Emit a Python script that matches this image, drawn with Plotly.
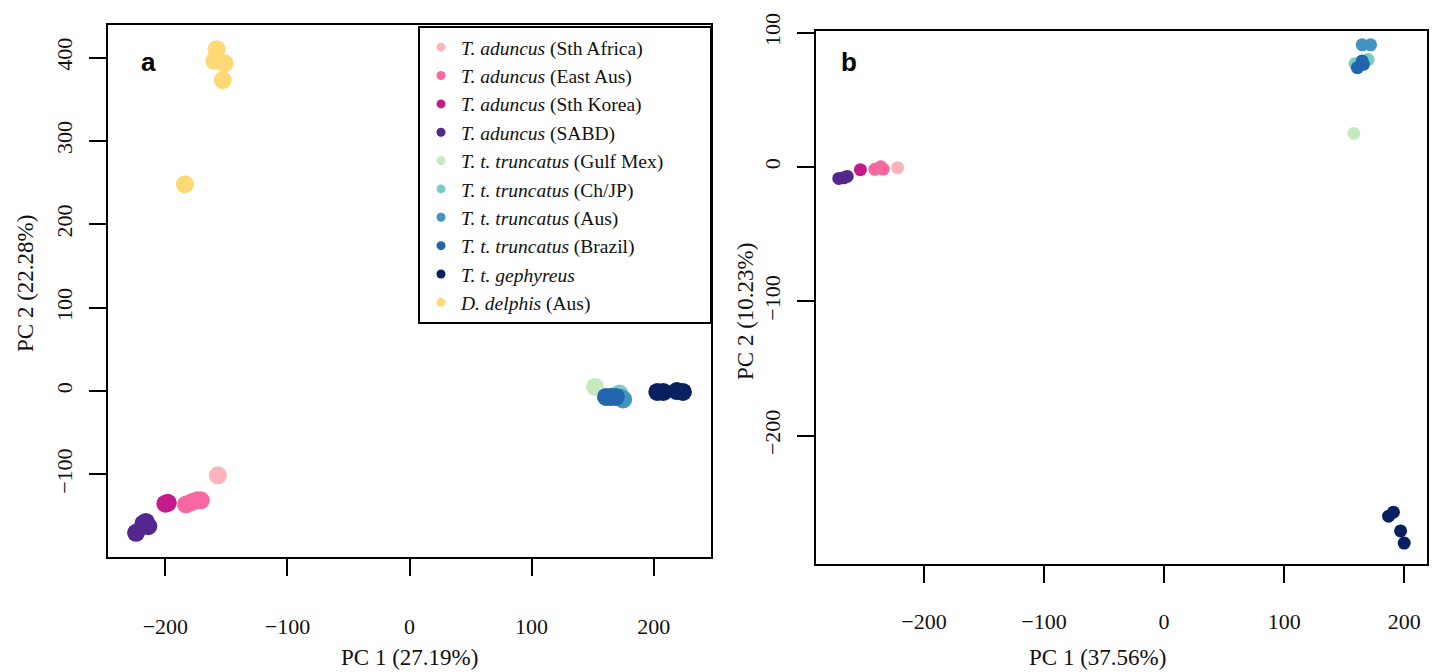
import plotly.graph_objects as go

W, H = 1437, 672

# Population groups, legend labels and colours
groups = ["sth_africa", "east_aus", "sth_korea", "sabd", "gulf_mex",
          "ch_jp", "aus", "brazil", "gephyreus", "delphis"]
labels = [
    "<i>T. aduncus</i> (Sth Africa)",
    "<i>T. aduncus</i> (East Aus)",
    "<i>T. aduncus</i> (Sth Korea)",
    "<i>T. aduncus</i> (SABD)",
    "<i>T. t. truncatus</i> (Gulf Mex)",
    "<i>T. t. truncatus</i> (Ch/JP)",
    "<i>T. t. truncatus</i> (Aus)",
    "<i>T. t. truncatus</i> (Brazil)",
    "<i>T. t. gephyreus</i>",
    "<i>D. delphis</i> (Aus)",
]
colors = ["#FBB4B9", "#F768A1", "#C51B8A", "#54278F", "#C7E9C0",
          "#7BCCC4", "#4393C3", "#2166AC", "#08205E", "#FED976"]

# Panel a: PCA including D. delphis
a_pc1 = {
    "sth_africa": [-157],
    "east_aus": [-183, -178, -174, -171],
    "sth_korea": [-200, -198],
    "sabd": [-224, -218, -214, -216],
    "gulf_mex": [152],
    "ch_jp": [172, 169],
    "aus": [175, 173],
    "brazil": [161, 165, 169],
    "gephyreus": [203, 208, 219, 224],
    "delphis": [-158, -160, -151.5, -153, -184],
}
a_pc2 = {
    "sth_africa": [-101],
    "east_aus": [-136, -133, -131, -131],
    "sth_korea": [-135, -134],
    "sabd": [-170, -159, -162, -157],
    "gulf_mex": [5],
    "ch_jp": [-3, -5],
    "aus": [-10, -8],
    "brazil": [-7, -7, -7],
    "gephyreus": [-1, -1, 0, -1],
    "delphis": [410, 396, 393, 373, 248],
}

# Panel b: PCA of Tursiops only
b_pc1 = {
    "sth_africa": [-222],
    "east_aus": [-241, -236, -234],
    "sth_korea": [-253],
    "sabd": [-271, -267, -264],
    "gulf_mex": [158],
    "ch_jp": [170, 159],
    "aus": [165, 172],
    "brazil": [161, 165, 166],
    "gephyreus": [187, 191, 197, 200],
    "delphis": [],
}
b_pc2 = {
    "sth_africa": [-0.5],
    "east_aus": [-1.7, 0.2, -1.5],
    "sth_korea": [-2],
    "sabd": [-8.5, -8, -7],
    "gulf_mex": [25],
    "ch_jp": [80, 77],
    "aus": [91, 91],
    "brazil": [74, 79, 76.5],
    "gephyreus": [-260, -257, -271, -280],
    "delphis": [],
}

a_xticks = [-200, -100, 0, 100, 200]
a_yticks = [-100, 0, 100, 200, 300, 400]
b_xticks = [-200, -100, 0, 100, 200]
b_yticks = [-200, -100, 0, 100]

SERIF = "Liberation Serif"
fig = go.Figure()

for g, c in zip(groups, colors):
    fig.add_trace(go.Scatter(
        x=a_pc1[g], y=a_pc2[g], mode="markers", xaxis="x", yaxis="y",
        marker=dict(color=c, size=18, line=dict(width=0)),
        showlegend=False, hoverinfo="skip"))
for g, c in zip(groups, colors):
    if b_pc1[g]:
        fig.add_trace(go.Scatter(
            x=b_pc1[g], y=b_pc2[g], mode="markers", xaxis="x2", yaxis="y2",
            marker=dict(color=c, size=13, line=dict(width=0)),
            showlegend=False, hoverinfo="skip"))
# legend entries (small dots)
for lab, c in zip(labels, colors):
    fig.add_trace(go.Scatter(
        x=[None], y=[None], mode="markers", xaxis="x", yaxis="y", name=lab,
        marker=dict(color=c, size=9, line=dict(width=0)), showlegend=True))

tickfont = dict(family=SERIF, size=22, color="#111")
common = dict(showgrid=False, zeroline=False, showline=True, mirror=True,
              linecolor="black", linewidth=2, ticks="outside", ticklen=17,
              tickwidth=1.5, tickcolor="black", tickfont=tickfont,
              automargin=False)

fig.update_layout(
    width=W, height=H, margin=dict(l=0, r=0, t=0, b=0, autoexpand=False),
    paper_bgcolor="white", plot_bgcolor="white",
    xaxis=dict(domain=[108 / W, 711 / W], range=[-247, 247], tickvals=a_xticks,
               anchor="y", ticklabelstandoff=32, **common),
    yaxis=dict(domain=[1 - 557 / H, 1 - 25 / H], range=[-199, 439], tickvals=a_yticks,
               anchor="x", tickangle=-90, ticklabelstandoff=8, **common),
    xaxis2=dict(domain=[816 / W, 1427 / W], range=[-290, 219], tickvals=b_xticks,
                anchor="y2", ticklabelstandoff=20, **common),
    yaxis2=dict(domain=[1 - 564 / H, 1 - 31 / H], range=[-295.6, 101.3], tickvals=b_yticks,
                anchor="x2", tickangle=-90, ticklabelstandoff=8, **common),
    showlegend=True,
    legend=dict(x=421 / W, y=1 - 28 / H, xanchor="left", yanchor="top",
                bgcolor="rgba(0,0,0,0)", borderwidth=0,
                font=dict(family=SERIF, size=19.5, color="#111"),
                itemclick=False, itemdoubleclick=False),
    shapes=[dict(type="rect", xref="paper", yref="paper",
                 x0=419 / W, x1=711 / W, y0=1 - 323 / H, y1=1 - 27 / H,
                 line=dict(color="black", width=2), fillcolor="rgba(0,0,0,0)")],
    annotations=[
        dict(text="PC 1 (27.19%)", x=409 / W, y=1 - 657 / H, xref="paper", yref="paper",
             showarrow=False, xanchor="center", yanchor="middle",
             font=dict(family=SERIF, size=23, color="#111")),
        dict(text="PC 2 (22.28%)", x=25 / W, y=1 - 284 / H, xref="paper", yref="paper",
             showarrow=False, xanchor="center", yanchor="middle", textangle=-90,
             font=dict(family=SERIF, size=23, color="#111")),
        dict(text="PC 1 (37.56%)", x=1097 / W, y=1 - 657 / H, xref="paper", yref="paper",
             showarrow=False, xanchor="center", yanchor="middle",
             font=dict(family=SERIF, size=23, color="#111")),
        dict(text="PC 2 (10.23%)", x=745 / W, y=1 - 312 / H, xref="paper", yref="paper",
             showarrow=False, xanchor="center", yanchor="middle", textangle=-90,
             font=dict(family=SERIF, size=23, color="#111")),
        dict(text="<b>a</b>", x=148 / W, y=1 - 62 / H, xref="paper", yref="paper",
             showarrow=False, xanchor="center", yanchor="middle",
             font=dict(family="Liberation Sans", size=26, color="black")),
        dict(text="<b>b</b>", x=849 / W, y=1 - 62 / H, xref="paper", yref="paper",
             showarrow=False, xanchor="center", yanchor="middle",
             font=dict(family="Liberation Sans", size=26, color="black")),
    ],
)

fig.write_html("out.html")
